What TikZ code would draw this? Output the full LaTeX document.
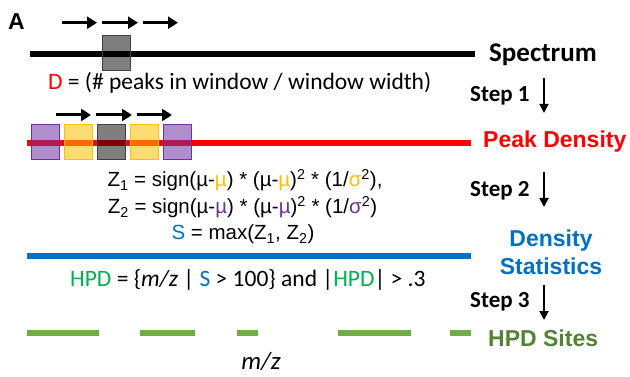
\documentclass[tikz,border=0pt]{standalone}
\usepackage{fontspec}
\setmainfont{Carlito}
\newfontfamily\arial{Liberation Sans}
\usetikzlibrary{arrows.meta}
\definecolor{cred}{HTML}{FF0000}
\definecolor{cyel}{HTML}{FFC000}
\definecolor{cpur}{HTML}{7030A0}
\definecolor{cblue}{HTML}{0070C0}
\definecolor{cgreen}{HTML}{00B050}
\definecolor{cdash}{HTML}{70AD47}
\definecolor{csite}{HTML}{548235}
\definecolor{cgbord}{HTML}{404040}
\tikzset{
  mv/.style={line width=3pt, -{Triangle[length=10pt,width=12pt]}},
  stepar/.style={line width=1.8pt, -{Triangle[length=9pt,width=9pt]}},
  track/.style={line width=5.5pt},
  win/.style={minimum width=28pt, minimum height=35pt, inner sep=0pt, line width=1pt},
  graywin/.style={win, draw=cgbord, fill=black, fill opacity=0.5},
  yelwin/.style={win, draw=cyel, fill=cyel, fill opacity=0.55},
  purwin/.style={win, draw=cpur, fill=cpur, fill opacity=0.55},
  steplab/.style={anchor=base west, inner sep=0pt, font=\fontsize{23}{27}\selectfont\bfseries},
  reslab/.style={anchor=base west, inner sep=0pt, font=\arial\fontsize{23}{29}\selectfont\bfseries},
  formula/.style={anchor=base, inner sep=0pt, font=\arial\fontsize{20.5}{26}\selectfont},
  caltext/.style={anchor=base west, inner sep=0pt, font=\fontsize{23.5}{27}\selectfont},
}
\begin{document}
\begin{tikzpicture}[x=1pt,y=-1pt]
\useasboundingbox (0,0) rectangle (630,377);
% panel label
\node[anchor=base, inner sep=0pt, font=\arial\fontsize{23}{26}\selectfont\bfseries] (lblA) at (16.5,30) {A};
% top window arrows
\coordinate (ta1) at (62,22.7); \coordinate (tb1) at (97,22.7);
\coordinate (ta2) at (102,22.7); \coordinate (tb2) at (138,22.7);
\coordinate (ta3) at (143,22.7); \coordinate (tb3) at (178,22.7);
\draw[mv] (ta1) -- (tb1);
\draw[mv] (ta2) -- (tb2);
\draw[mv] (ta3) -- (tb3);
% spectrum line
\coordinate (s0) at (30,54); \coordinate (s1) at (475,54);
\draw[track, black] (s0) -- (s1);
\node[graywin] (g1) at (116.5,53.5) {};
\node[caltext] (dtext) at (48,90) {{\color{cred}D} = (\# peaks in window / window width)};
% second row arrows
\coordinate (ua1) at (56,115); \coordinate (ub1) at (91,115);
\coordinate (ua2) at (96,115); \coordinate (ub2) at (132,115);
\coordinate (ua3) at (137,115); \coordinate (ub3) at (172,115);
\draw[mv] (ua1) -- (ub1);
\draw[mv] (ua2) -- (ub2);
\draw[mv] (ua3) -- (ub3);
% peak density line
\coordinate (p0) at (27,143); \coordinate (p1) at (471,143);
\draw[track, cred] (p0) -- (p1);
\node[purwin] (w1) at (45,142.5) {};
\node[yelwin] (w2) at (78,142.5) {};
\node[graywin] (w3) at (111.5,142.5) {};
\node[yelwin] (w4) at (144,142.5) {};
\node[purwin] (w5) at (177,142.5) {};
% formulas
\node[formula] (z1) at (245,187) {Z\textsubscript{1} = sign(µ-{\color{cyel}µ}) * (µ-{\color{cyel}µ})\textsuperscript{2} * (1/{\color{cyel}σ}\textsuperscript{2}),};
\node[formula] (z2) at (242.5,214) {Z\textsubscript{2} = sign(µ-{\color{cpur}µ}) * (µ-{\color{cpur}µ})\textsuperscript{2} * (1/{\color{cpur}σ}\textsuperscript{2})};
\node[formula] (sm) at (243,240) {{\color{cblue}S} = max(Z\textsubscript{1}, Z\textsubscript{2})};
% density statistics line
\coordinate (d0) at (27,256); \coordinate (d1) at (471,256);
\draw[track, cblue] (d0) -- (d1);
\node[caltext] (hpdtext) at (70,287) {{\color{cgreen}HPD} = \{\textit{m/z} | {\color{cblue}S} > 100\} and |{\color{cgreen}HPD}| > .3};
% HPD sites dashes
\coordinate (h0a) at (27,333); \coordinate (h0b) at (99,333);
\coordinate (h1a) at (140,333); \coordinate (h1b) at (195,333);
\coordinate (h2a) at (237,333); \coordinate (h2b) at (258,333);
\coordinate (h3a) at (338,333); \coordinate (h3b) at (411,333);
\coordinate (h4a) at (450,333); \coordinate (h4b) at (471,333);
\draw[track, cdash] (h0a) -- (h0b);
\draw[track, cdash] (h1a) -- (h1b);
\draw[track, cdash] (h2a) -- (h2b);
\draw[track, cdash] (h3a) -- (h3b);
\draw[track, cdash] (h4a) -- (h4b);
\node[anchor=base, inner sep=0pt, font=\fontsize{25}{30}\selectfont\itshape] (mz) at (261,369) {m/z};
% right column
\node[steplab, font=\fontsize{27}{31}\selectfont\bfseries] (spec) at (489,62) {Spectrum};
\node[steplab] (st1) at (470,102) {Step 1};
\coordinate (a1s) at (544,78); \coordinate (a1e) at (544,113);
\draw[stepar] (a1s) -- (a1e);
\node[reslab, text=cred] (pd) at (483,148) {Peak Density};
\node[steplab] (st2) at (470,197) {Step 2};
\coordinate (a2s) at (544,172); \coordinate (a2e) at (544,207);
\draw[stepar] (a2s) -- (a2e);
\node[reslab, text=cblue, anchor=base] (ds1) at (551,246.7) {Density};
\node[reslab, text=cblue, anchor=base] (ds2) at (551,275) {Statistics};
\node[steplab] (st3) at (470,308) {Step 3};
\coordinate (a3s) at (544,285); \coordinate (a3e) at (544,320);
\draw[stepar] (a3s) -- (a3e);
\node[reslab, text=csite] (hs) at (488,346.7) {HPD Sites};
\end{tikzpicture}
\end{document}
